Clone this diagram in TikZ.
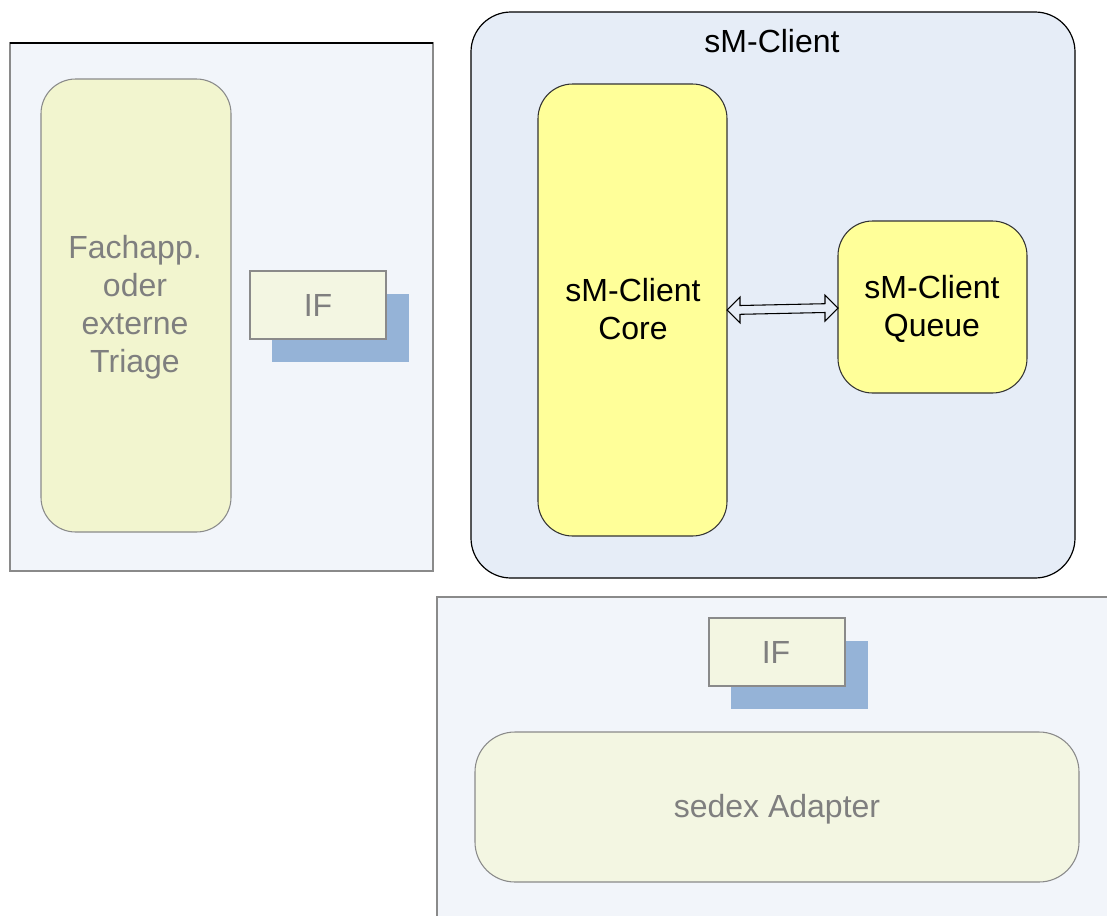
\documentclass[tikz,border=0pt]{standalone}
\usepackage{fontspec}
\setmainfont{Liberation Sans}
\definecolor{panelbg}{HTML}{F2F5FA}
\definecolor{clientbg}{HTML}{E6EDF7}
\definecolor{appfill}{HTML}{F2F5CF}
\definecolor{iffill}{HTML}{F3F6E2}
\definecolor{shadowblue}{HTML}{95B3D7}
\definecolor{coreyellow}{HTML}{FFFF99}
\definecolor{graytext}{HTML}{7F7F7F}
\definecolor{grayline}{HTML}{8A8A8A}
\tikzset{
  panel/.style={draw=grayline, line width=1pt, fill=panelbg},
  appbox/.style={draw=grayline, line width=0.8pt, fill=appfill, rounded corners=26pt},
  ifbox/.style={draw=grayline, line width=1pt, fill=iffill},
  ifshadow/.style={fill=shadowblue, draw=none},
  corebox/.style={draw=black!80, line width=0.8pt, fill=coreyellow, rounded corners=26pt},
  lbl/.style={font=\fontsize{24}{28.5}\selectfont, align=center, inner sep=0pt},
}
\begin{document}
\begin{tikzpicture}[x=0.75pt,y=-0.75pt]
\useasboundingbox (0,0) rectangle (1107,915);
% left panel
\draw[panel] (10,43) rectangle (433,571);
\draw[black, line width=1pt] (10,43) -- (433,43);
\draw[appbox] (41,79) rectangle (231,532);
\node[lbl, text=graytext] (fach) at (135,307) {Fachapp.\\oder\\externe\\Triage};
\fill[ifshadow] (272,294) rectangle (409,362);
\draw[ifbox] (250,271) rectangle (386,339);
\node[lbl, text=graytext] (if1) at (318,305) {IF};
% sM-Client
\draw[draw=black, line width=0.9pt, fill=clientbg, rounded corners=30pt] (471,12) rectangle (1075,578);
\node[lbl] (title) at (772,41) {sM-Client};
\draw[corebox] (538,84) rectangle (727,536);
\node[lbl] (core) at (633,309) {sM-Client\\Core};
\draw[corebox] (838,221) rectangle (1027,393);
\node[lbl] (queue) at (932,309) {sM-Client\\Queue};
\coordinate (aL) at (727,310);
\coordinate (aR) at (838,308);
\draw[black, line width=0.8pt, fill=clientbg, line join=miter]
  (aL) -- ++(13,-13) -- ++(0,8.5) -- ++(85,-1.8) -- ++(0,-8.5)
  -- (aR) -- ++(-13,13) -- ++(0,-8.5) -- ++(-85,1.8) -- ++(0,8.5) -- cycle;
% bottom panel
\draw[panel] (437,597) rectangle (1112,920);
\fill[ifshadow] (731,641) rectangle (868,709);
\draw[ifbox] (709,618) rectangle (845,686);
\node[lbl, text=graytext] (if2) at (776,652) {IF};
\draw[draw=grayline, line width=0.8pt, fill=iffill, rounded corners=30pt] (475,732) rectangle (1079,882);
\node[lbl, text=graytext] (sedex) at (777,809) {sedex Adapter};
\end{tikzpicture}
\end{document}
